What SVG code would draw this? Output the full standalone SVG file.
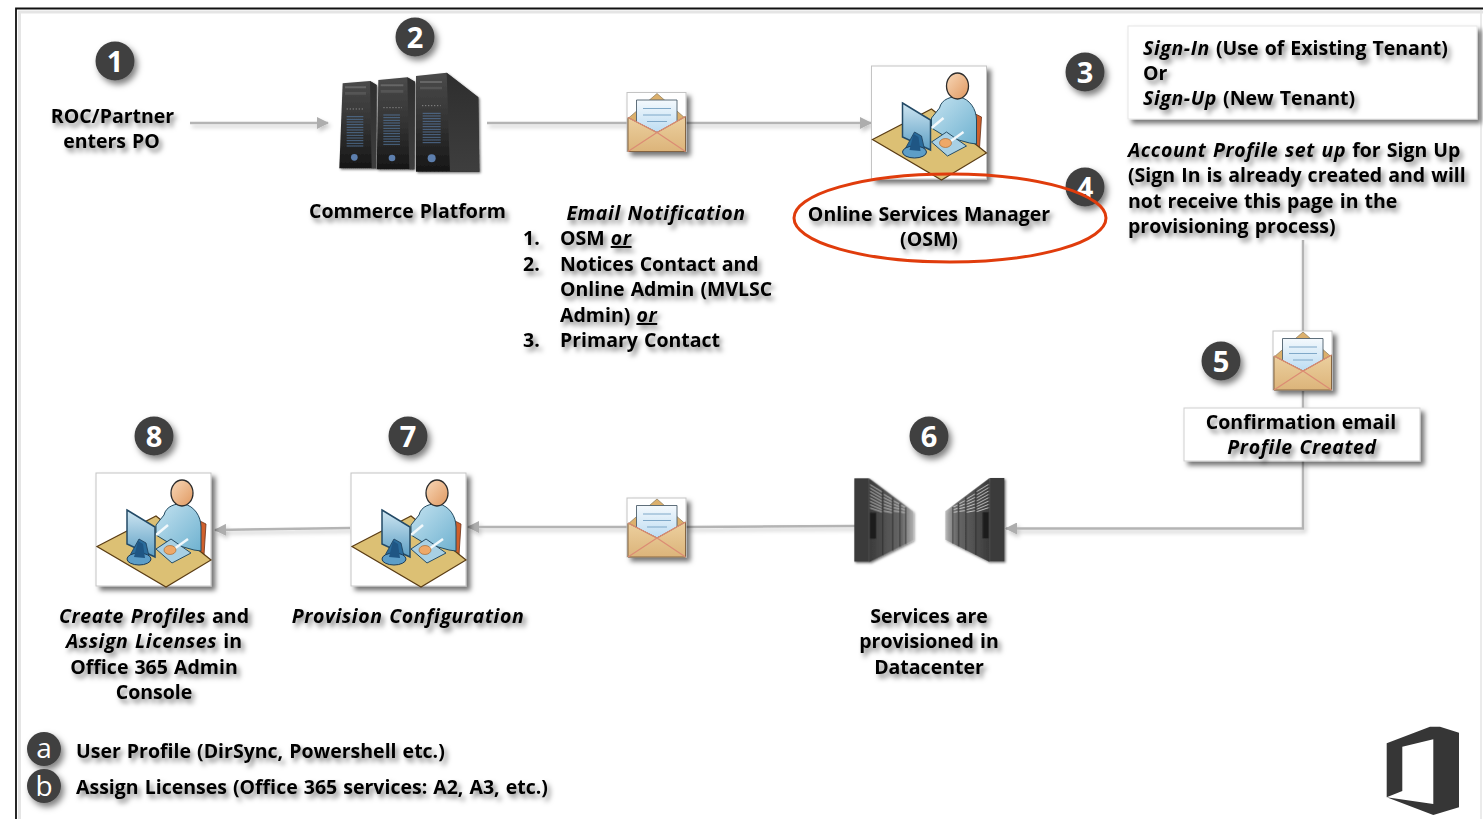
<svg xmlns="http://www.w3.org/2000/svg" width="1483" height="819" viewBox="0 0 1483 819">
<style>
text{font-family:"Open Sans","Noto Sans","Liberation Sans",sans-serif;font-size:19.500px;font-weight:700;fill:#000;word-spacing:1px}
.t{filter:url(#ts)}
.m{text-anchor:middle}
.i{font-style:italic;letter-spacing:.6px}
.u{text-decoration:underline}
.b circle{fill:#404040;filter:url(#bs)}
.b text{fill:#fff;font-size:29px;font-weight:700;text-anchor:middle}
.b .l{font-weight:400;font-size:28px}
.c{fill:none;stroke:#b4b4b4;stroke-width:2.500}
.a{marker-end:url(#ah)}
.ph{fill:#fff;stroke:#c4c4c4;stroke-width:1;filter:url(#bx)}
</style>
<defs>
<filter id="ts" x="-10%" y="-40%" width="125%" height="190%"><feDropShadow dx="3" dy="4" stdDeviation="2.400" flood-color="#000" flood-opacity=".5"/></filter>
<filter id="bs" x="-40%" y="-40%" width="190%" height="190%"><feDropShadow dx="3" dy="4" stdDeviation="3" flood-color="#000" flood-opacity=".5"/></filter>
<filter id="bx" x="-15%" y="-25%" width="135%" height="160%"><feDropShadow dx="4" dy="4" stdDeviation="2.500" flood-color="#000" flood-opacity=".55"/></filter>
<filter id="ls" filterUnits="userSpaceOnUse" x="0" y="0" width="1483" height="819"><feDropShadow dx="2" dy="3" stdDeviation="2" flood-color="#000" flood-opacity=".22"/></filter>
<marker id="ah" viewBox="0 0 12 12" refX="11" refY="6" markerWidth="12" markerHeight="12" markerUnits="userSpaceOnUse" orient="auto"><path d="M0 0L12 6L0 12z" fill="#adadad"/></marker>
<linearGradient id="let" x1="0" y1="0" x2="0" y2="1"><stop offset="0" stop-color="#f4f9fd"/><stop offset="1" stop-color="#bcdcf2"/></linearGradient>
<linearGradient id="env" x1="0" y1="0" x2="0" y2="1"><stop offset="0" stop-color="#ecd09f"/><stop offset="1" stop-color="#dcb47a"/></linearGradient>
<linearGradient id="bod" x1="0" y1="0" x2="1" y2="1"><stop offset="0" stop-color="#c4e2f0"/><stop offset="1" stop-color="#6fb2d0"/></linearGradient>
<linearGradient id="hd" x1="0" y1="0" x2="1" y2="1"><stop offset="0" stop-color="#f8d8b8"/><stop offset="1" stop-color="#e09860"/></linearGradient>
<linearGradient id="mon" x1="0" y1="0" x2="0" y2="1"><stop offset="0" stop-color="#cfe6f2"/><stop offset="1" stop-color="#5d9fc4"/></linearGradient>
<linearGradient id="twr" x1="0" y1="0" x2="0" y2="1"><stop offset="0" stop-color="#4a4a4a"/><stop offset=".5" stop-color="#333"/><stop offset="1" stop-color="#161616"/></linearGradient>
<linearGradient id="sd" x1="0" y1="0" x2="0" y2="1"><stop offset="0" stop-color="#2e2e2e"/><stop offset="1" stop-color="#3e3e3e"/></linearGradient>
<linearGradient id="rack" x1="0" y1="0" x2="1" y2="0"><stop offset="0" stop-color="#3a3a3a"/><stop offset=".75" stop-color="#6a6a6a"/><stop offset="1" stop-color="#a8a8a8" stop-opacity=".7"/></linearGradient>
<g id="envelope">
<rect x="0" y="0" width="59" height="59" class="ph"/>
<path d="M1 26L30 1L58.500 26V59H1z" fill="#dcb06c" stroke="#8a7a5c" stroke-width=".7"/>
<path d="M9.500 7.500H50V30L30 40L9.500 30z" fill="url(#let)" stroke="#4d5f6c" stroke-width=".9"/>
<path d="M16 16H44M16 22.500H44M20 29H40" stroke="#7fa8c8" stroke-width="1.200" fill="none"/>
<path d="M1 25L30 40L58.500 24V59H1z" fill="url(#env)" stroke="#7d5d3c" stroke-width=".9"/>
<path d="M1 59L30 40L58.500 59" fill="none" stroke="#dc8c74" stroke-width="1.200"/>
<path d="M1 25L30 40L58.500 24" fill="none" stroke="#dc8c74" stroke-width="1.200"/>
</g>
<g id="person">
<rect x="0" y="0" width="115" height="113" class="ph"/>
<path d="M104 48L110 51L108 82L101 78z" fill="#d0602c" stroke="#6a3018" stroke-width=".8"/>
<path d="M1 73.500L60 43L115 87L70 114z" fill="#dcc074" stroke="#5a3c14" stroke-width="1.200"/>
<path d="M68 42C70 33 80 30 88 31C98 33 105 43 105 54V78L98 77L73 70L60 62V52z" fill="url(#bod)" stroke="#234a60" stroke-width="1"/>
<ellipse cx="86" cy="20" rx="11" ry="13" fill="url(#hd)" stroke="#2c2c2c" stroke-width="1.300"/>
<path d="M60 76L75 66L95 80L76 90z" fill="#a8d0e4" stroke="#264d66" stroke-width="1"/>
<path d="M78 76L92 66" stroke="#f2f8fb" stroke-width="2.500" fill="none"/>
<path d="M60 62L72 52" stroke="#f2f8fb" stroke-width="2.500" fill="none"/>
<ellipse cx="74" cy="77" rx="6" ry="4.500" fill="#eea868" stroke="#a05c24" stroke-width=".6"/>
<path d="M31 37L59 54V84L31 71z" fill="url(#mon)" stroke="#234a66" stroke-width="1.500"/>
<path d="M43 66L50 70L54 88L33 84z" fill="#2a6c9c" stroke="#1c3c58" stroke-width=".8"/>
<ellipse cx="43" cy="86" rx="12" ry="6" fill="#5d9ec8" stroke="#1c3c58" stroke-width="1"/>
<path d="M42 68L47 71L49 85L38 84z" fill="#1f5684"/>
</g>
<g id="louver" fill="none" stroke="#54779f" stroke-width="2.400">
<path d="M0 0H50M0 8H50M0 16H50M0 24H50M0 32H50M0 40H50M0 48H50M0 56H50M0 64H50M0 72H50M0 80H50M0 88H50"/>
</g>
<g id="rackset">
<path d="M147 235L280 335V420L147 487z" fill="url(#rack)"/>
<g fill="none" stroke="#d8d8d8" stroke-width="2.500">
<path d="M150 254L186 276M150 264L186 286M150 274L186 295M150 284L186 304M150 294L186 313M150 304L186 321M150 314L186 329M150 324L186 336"/>
<path d="M191 283L216 298M191 293L216 306M191 303L216 314M191 313L216 322M191 323L216 330M191 333L216 338"/>
<path d="M221 303L238 312M221 313L238 320M221 323L238 327M221 333L238 335"/>
<path d="M243 316L255 322M243 326L255 330M243 336L255 338"/>
</g>
<path d="M188 270V466M218 292V452M240 310V440M257 322V432" stroke="#1c1c1c" stroke-width="2"/>
<rect x="150" y="338" width="18" height="78" fill="#1d1d1d"/>
<rect x="103" y="235" width="44" height="250" fill="#3b3b3b"/>
</g>
</defs>

<rect width="1483" height="819" fill="#fff"/>

<g id="frame">
<path d="M16 819V8.500H1483" fill="none" stroke="#111" stroke-width="1.800"/>
<path d="M18 12H1483M19.500 12V819" fill="none" stroke="#000" stroke-opacity=".1" stroke-width="3"/>
<path d="M1481 10V819" fill="none" stroke="#e4e4e4" stroke-width="1.500"/>
</g>

<g id="connectors" filter="url(#ls)">
<path class="c a" d="M190 123H328"/>
<path class="c" d="M487 123H627"/>
<path class="c a" d="M686 123H871"/>
<path class="c" d="M1303 240V331"/>
<path class="c" d="M1303 391V408"/>
<path class="c a" d="M1303 461V528.500H1006"/>
<path class="c" d="M855 526L686 527"/>
<path class="c a" d="M627 527H468"/>
<path class="c a" d="M350 528L215 530"/>
</g>

<g id="node-1"><g class="b"><circle cx="115" cy="61" r="19.500"/><text x="115" y="71.500">1</text></g>
<g class="t"><text class="m" x="112.500" y="123">ROC/Partner</text><text class="m" x="111.500" y="148">enters PO</text></g></g>

<g id="node-2"><g class="b"><circle cx="415" cy="37" r="19.500"/><text x="415" y="47.500">2</text></g>
<g transform="translate(320 10) scale(.33333)">
<g filter="url(#bx)">
<path d="M68 220L150 213L170 225L168 475L58 475z" fill="url(#twr)"/>
<path d="M175 210L262 202L285 215L283 478L170 478z" fill="url(#twr)"/>
<path d="M288 198L380 188L475 262L478 485L288 485z" fill="url(#twr)"/>
</g>
<path d="M150 213L170 225L168 475H155z" fill="url(#sd)"/>
<path d="M262 202L285 215L283 478H268z" fill="url(#sd)"/>
<path d="M380 188L475 262L478 485H390z" fill="url(#sd)"/>
<path d="M75 232H138M182 226H250M300 216H366" stroke="#666" stroke-width="6" fill="none"/>
<path d="M75 250H138M182 244H250M300 234H366" stroke="#555" stroke-width="8" fill="none"/>
<use href="#louver" transform="translate(80 320)"/>
<use href="#louver" transform="translate(190 315)"/>
<use href="#louver" transform="translate(308 310) scale(1.080 1)"/>
<path d="M80 297H132M190 293H246M306 287H362" stroke="#8a8a8a" stroke-width="3" stroke-dasharray="4 5" fill="none"/>
<circle cx="103" cy="442" r="10" fill="#5d7fae"/><circle cx="216" cy="444" r="10" fill="#5d7fae"/><circle cx="335" cy="445" r="12" fill="#5d7fae"/>
</g>
<g class="t"><text class="m" x="407.500" y="218">Commerce  Platform</text></g></g>

<g id="node-email-1"><use href="#envelope" x="627" y="92.500"/>
<g class="t"><text class="m i" x="656" y="220">Email Notification</text>
<text x="523" y="245">1.</text><text x="560" y="245">OSM <tspan class="i u">or</tspan></text>
<text x="523" y="271">2.</text><text x="560" y="271">Notices Contact and</text>
<text x="560" y="296">Online Admin (MVLSC</text>
<text x="560" y="322">Admin) <tspan class="i u">or</tspan></text>
<text x="523" y="347">3.</text><text x="560" y="347">Primary Contact</text></g></g>

<g id="node-4-osm"><use href="#person" x="871.500" y="66"/>
<g class="b"><circle cx="1085" cy="187" r="19.500"/><text x="1085" y="197.500">4</text></g>
<g class="t"><text class="m" x="929" y="221">Online Services Manager</text><text class="m" x="929" y="246">(OSM)</text></g>
<ellipse cx="950" cy="218" rx="156" ry="44" fill="none" stroke="#e03c0c" stroke-width="3"/></g>

<g id="node-3"><g class="b"><circle cx="1085" cy="72" r="19.500"/><text x="1085" y="82.500">3</text></g>
<rect x="1128" y="26" width="349" height="93" fill="#fff" stroke="#e6e6e6" filter="url(#bx)"/>
<g class="t"><text x="1143" y="55"><tspan class="i">Sign-In</tspan> (Use of Existing Tenant)</text><text x="1143" y="80">Or</text><text x="1143" y="105"><tspan class="i">Sign-Up</tspan> (New Tenant)</text></g></g>

<g id="node-profile"><g class="t"><text x="1128" y="157"><tspan class="i">Account Profile set up</tspan> for Sign Up</text>
<text x="1128" y="182">(Sign In is already created and will</text>
<text x="1128" y="208">not receive this page in the</text>
<text x="1128" y="233">provisioning process)</text></g></g>

<g id="node-5"><g class="b"><circle cx="1221" cy="361" r="19.500"/><text x="1221" y="371.500">5</text></g>
<use href="#envelope" x="1273" y="331"/>
<rect x="1184" y="408" width="236" height="53" fill="#fff" stroke="#cfcfcf" filter="url(#bx)"/>
<g class="t"><text class="m" x="1301" y="429">Confirmation email</text><text class="m i" x="1302" y="454">Profile Created</text></g></g>

<g id="node-6"><g class="b"><circle cx="929" cy="436" r="19.500"/><text x="929" y="446.500">6</text></g>
<g transform="translate(820 400) scale(.33333)" filter="url(#bx)">
<use href="#rackset"/>
<use href="#rackset" transform="matrix(-1 0 0 1 656 -1)"/>
</g>
<g class="t"><text class="m" x="929" y="623">Services are</text><text class="m" x="929" y="648">provisioned in</text><text class="m" x="929" y="674">Datacenter</text></g></g>

<g id="node-email-2"><use href="#envelope" x="627" y="498"/></g>

<g id="node-7"><g class="b"><circle cx="408" cy="436" r="19.500"/><text x="408" y="446.500">7</text></g>
<use href="#person" x="351" y="473"/>
<g class="t"><text class="m i" x="408" y="623">Provision Configuration</text></g></g>

<g id="node-8"><g class="b"><circle cx="154" cy="436" r="19.500"/><text x="154" y="446.500">8</text></g>
<use href="#person" x="96" y="473"/>
<g class="t"><text class="m" x="154" y="623"><tspan class="i">Create Profiles</tspan> and</text><text class="m" x="154" y="648"><tspan class="i">Assign Licenses</tspan> in</text><text class="m" x="154" y="674">Office 365 Admin</text><text class="m" x="154" y="699">Console</text></g></g>

<g id="legend-a"><g class="b"><circle cx="44" cy="749" r="17"/><text class="l" x="44" y="758">a</text></g>
<g class="t"><text x="76" y="758">User Profile (DirSync, Powershell etc.)</text></g></g>
<g id="legend-b"><g class="b"><circle cx="44" cy="786" r="17"/><text class="l" x="44" y="796">b</text></g>
<g class="t"><text x="76" y="794">Assign Licenses (Office 365 services: A2, A3, etc.)</text></g></g>

<g id="office-logo"><path fill="#363636" fill-rule="evenodd" d="M1386.700 743.300L1430 726.700H1440L1459 732.700V807.300L1433.300 815L1386.700 797.300zM1402.300 746.700L1433.300 739.300V804L1386.700 797.300L1402.300 791z"/></g>
</svg>
